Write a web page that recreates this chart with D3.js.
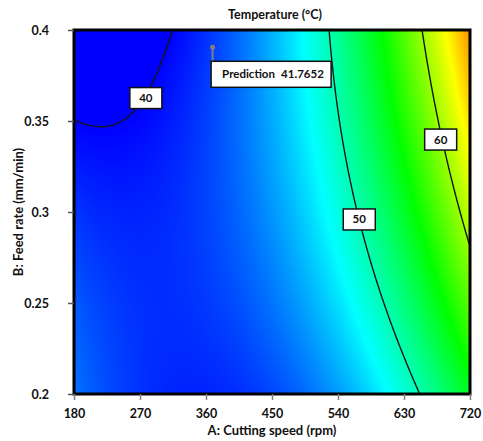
<!DOCTYPE html>
<html>
<head>
<meta charset="utf-8">
<script src="https://cdn.jsdelivr.net/npm/d3@7"></script>
<style>
  body { margin: 0; background: #fff; }
  text { font-family: Lato, "Open Sans", sans-serif; font-weight: bold; fill: #111; }
</style>
</head>
<body>
<svg id="chart" width="483" height="441"></svg>
<script>
// axis ticks
const speedTicks = [180, 270, 360, 450, 540, 630, 720];
const feedTicks = [0.2, 0.25, 0.3, 0.35, 0.4];

// fitted quadratic model (coded units): Intercept, A, B, AB, A^2, B^2
const coefValues = [44.51, 9.80, 1.63, 4.32, 6.85, -0.78];

// contour levels + where their labels sit
const contourLevels = [40, 50, 60];
const labelSpeed = [278, 569, 680];
const labelFeed = [0.3626, 0.2959, 0.3398];

// colour ramp
const colorStops = [40, 47.7, 55.3, 63, 70.7];
const colorRange = ["#0000ff", "#00ffff", "#00ff00", "#ffff00", "#ff0000"];

// flagged prediction
const predSpeed = [369];
const predFeed = [0.3905];
const predValue = ["41.7652"];

const margin = { top: 30, right: 13, bottom: 47, left: 74 };
const svg = d3.select("#chart");
const W = +svg.attr("width"), H = +svg.attr("height");
const pw = W - margin.left - margin.right, ph = H - margin.top - margin.bottom;

const x = d3.scaleLinear().domain([180, 720]).range([margin.left, margin.left + pw]);
const y = d3.scaleLinear().domain([0.2, 0.4]).range([margin.top + ph, margin.top]);
const color = d3.scaleLinear().domain(colorStops).range(colorRange).clamp(true);

function temp(A, B) {
  const a = (A - 450) / 270, b = (B - 0.3) / 0.1;
  const c = coefValues;
  return c[0] + c[1] * a + c[2] * b + c[3] * a * b + c[4] * a * a + c[5] * b * b;
}

// Background gradient, one pixel at a time
const canvas = document.createElement("canvas");
canvas.width = pw; canvas.height = ph;
const ctx = canvas.getContext("2d");
const img = ctx.createImageData(pw, ph);
for (let py = 0; py < ph; py++) {
  const B = y.invert(margin.top + py + 0.5);
  for (let px = 0; px < pw; px++) {
    const A = x.invert(margin.left + px + 0.5);
    const c = d3.rgb(color(temp(A, B)));
    const k = (py * pw + px) * 4;
    img.data[k] = c.r; img.data[k + 1] = c.g; img.data[k + 2] = c.b; img.data[k + 3] = 255;
  }
}
ctx.putImageData(img, 0, 0);

svg.append("image")
  .attr("x", margin.left).attr("y", margin.top)
  .attr("width", pw).attr("height", ph)
  .attr("preserveAspectRatio", "none")
  .attr("href", canvas.toDataURL());

svg.append("clipPath").attr("id", "plotClip")
  .append("rect")
  .attr("x", margin.left).attr("y", margin.top)
  .attr("width", pw).attr("height", ph);

// Contours
const nx = 241, ny = 161;
const gx = d3.scaleLinear().domain([180, 720]).range([0, nx - 1]);
const gy = d3.scaleLinear().domain([0.2, 0.4]).range([0, ny - 1]);
const grid = new Array(nx * ny);
for (let j = 0; j < ny; j++) {
  for (let i = 0; i < nx; i++) {
    grid[j * nx + i] = temp(gx.invert(i), gy.invert(j));
  }
}
const contours = d3.contours().size([nx, ny]).thresholds(contourLevels)(grid);
const path = d3.geoPath(d3.geoTransform({
  point: function (px, py) {
    this.stream.point(x(gx.invert(px - 0.5)), y(gy.invert(py - 0.5)));
  }
}));

svg.append("g")
  .attr("clip-path", "url(#plotClip)")
  .selectAll("path")
  .data(contours)
  .enter().append("path")
  .attr("d", path)
  .attr("fill", "none")
  .attr("stroke", "#151515")
  .attr("stroke-width", 1.4);

// Frame
svg.append("rect")
  .attr("x", margin.left).attr("y", margin.top)
  .attr("width", pw).attr("height", ph)
  .attr("fill", "none").attr("stroke", "#000").attr("stroke-width", 3);

// Axes
const xAxis = svg.append("g")
  .attr("transform", "translate(0," + (margin.top + ph) + ")")
  .call(d3.axisBottom(x).tickValues(speedTicks).tickSize(6).tickPadding(9).tickFormat(d3.format("d")));
xAxis.select(".domain").remove();
xAxis.selectAll("line").attr("stroke", "#808080").attr("stroke-width", 1.5);
xAxis.selectAll("text").attr("font-size", 12.5).attr("font-family", null).attr("fill", "#111");

const yAxis = svg.append("g")
  .attr("transform", "translate(" + margin.left + ",0)")
  .call(d3.axisLeft(y).tickValues(feedTicks).tickSize(6).tickPadding(19).tickFormat(d => d3.format("")(+d.toFixed(2))));
yAxis.select(".domain").remove();
yAxis.selectAll("line").attr("stroke", "#555").attr("stroke-width", 1.5);
yAxis.selectAll("text").attr("font-size", 12.5).attr("font-family", null).attr("fill", "#111");

// Titles
svg.append("text")
  .attr("x", margin.left + pw / 2 + 3).attr("y", 19)
  .attr("text-anchor", "middle").attr("font-size", 12.5)
  .text("Temperature (°C)");

svg.append("text")
  .attr("x", margin.left + pw / 2).attr("y", 435)
  .attr("text-anchor", "middle").attr("font-size", 13)
  .text("A: Cutting speed (rpm)");

svg.append("text")
  .attr("transform", "translate(23," + (margin.top + ph / 2) + ")rotate(-90)")
  .attr("text-anchor", "middle").attr("font-size", 13)
  .text("B: Feed rate (mm/min)");

// Contour labels
const lab = svg.append("g").selectAll("g")
  .data(contourLevels)
  .enter().append("g")
  .attr("transform", (d, i) => "translate(" + x(labelSpeed[i]) + "," + y(labelFeed[i]) + ")");
lab.append("rect")
  .attr("x", -16).attr("y", -10.5).attr("width", 32).attr("height", 21)
  .attr("fill", "#fff").attr("stroke", "#111").attr("stroke-width", 1.5);
lab.append("text")
  .attr("text-anchor", "middle").attr("dy", "0.35em").attr("font-size", 11.5)
  .text(d => d);

// Prediction flag
const px0 = x(predSpeed[0]), py0 = y(predFeed[0]);
svg.append("line")
  .attr("x1", px0).attr("x2", px0).attr("y1", py0).attr("y2", py0 + 14)
  .attr("stroke", "#808080").attr("stroke-width", 2);
svg.append("circle")
  .attr("cx", px0).attr("cy", py0).attr("r", 2.5).attr("fill", "#808080");
const flag = svg.append("g").attr("transform", "translate(" + (px0 - 1.5) + "," + (py0 + 14) + ")");
flag.append("rect")
  .attr("width", 120).attr("height", 26)
  .attr("fill", "#fff").attr("stroke", "#111").attr("stroke-width", 1.5);
flag.append("text").attr("x", 11).attr("y", 13).attr("dy", "0.35em").attr("font-size", 11.5).text("Prediction");
flag.append("text").attr("x", 70).attr("y", 13).attr("dy", "0.35em").attr("font-size", 11.5).text(predValue[0]);
</script>
</body>
</html>
